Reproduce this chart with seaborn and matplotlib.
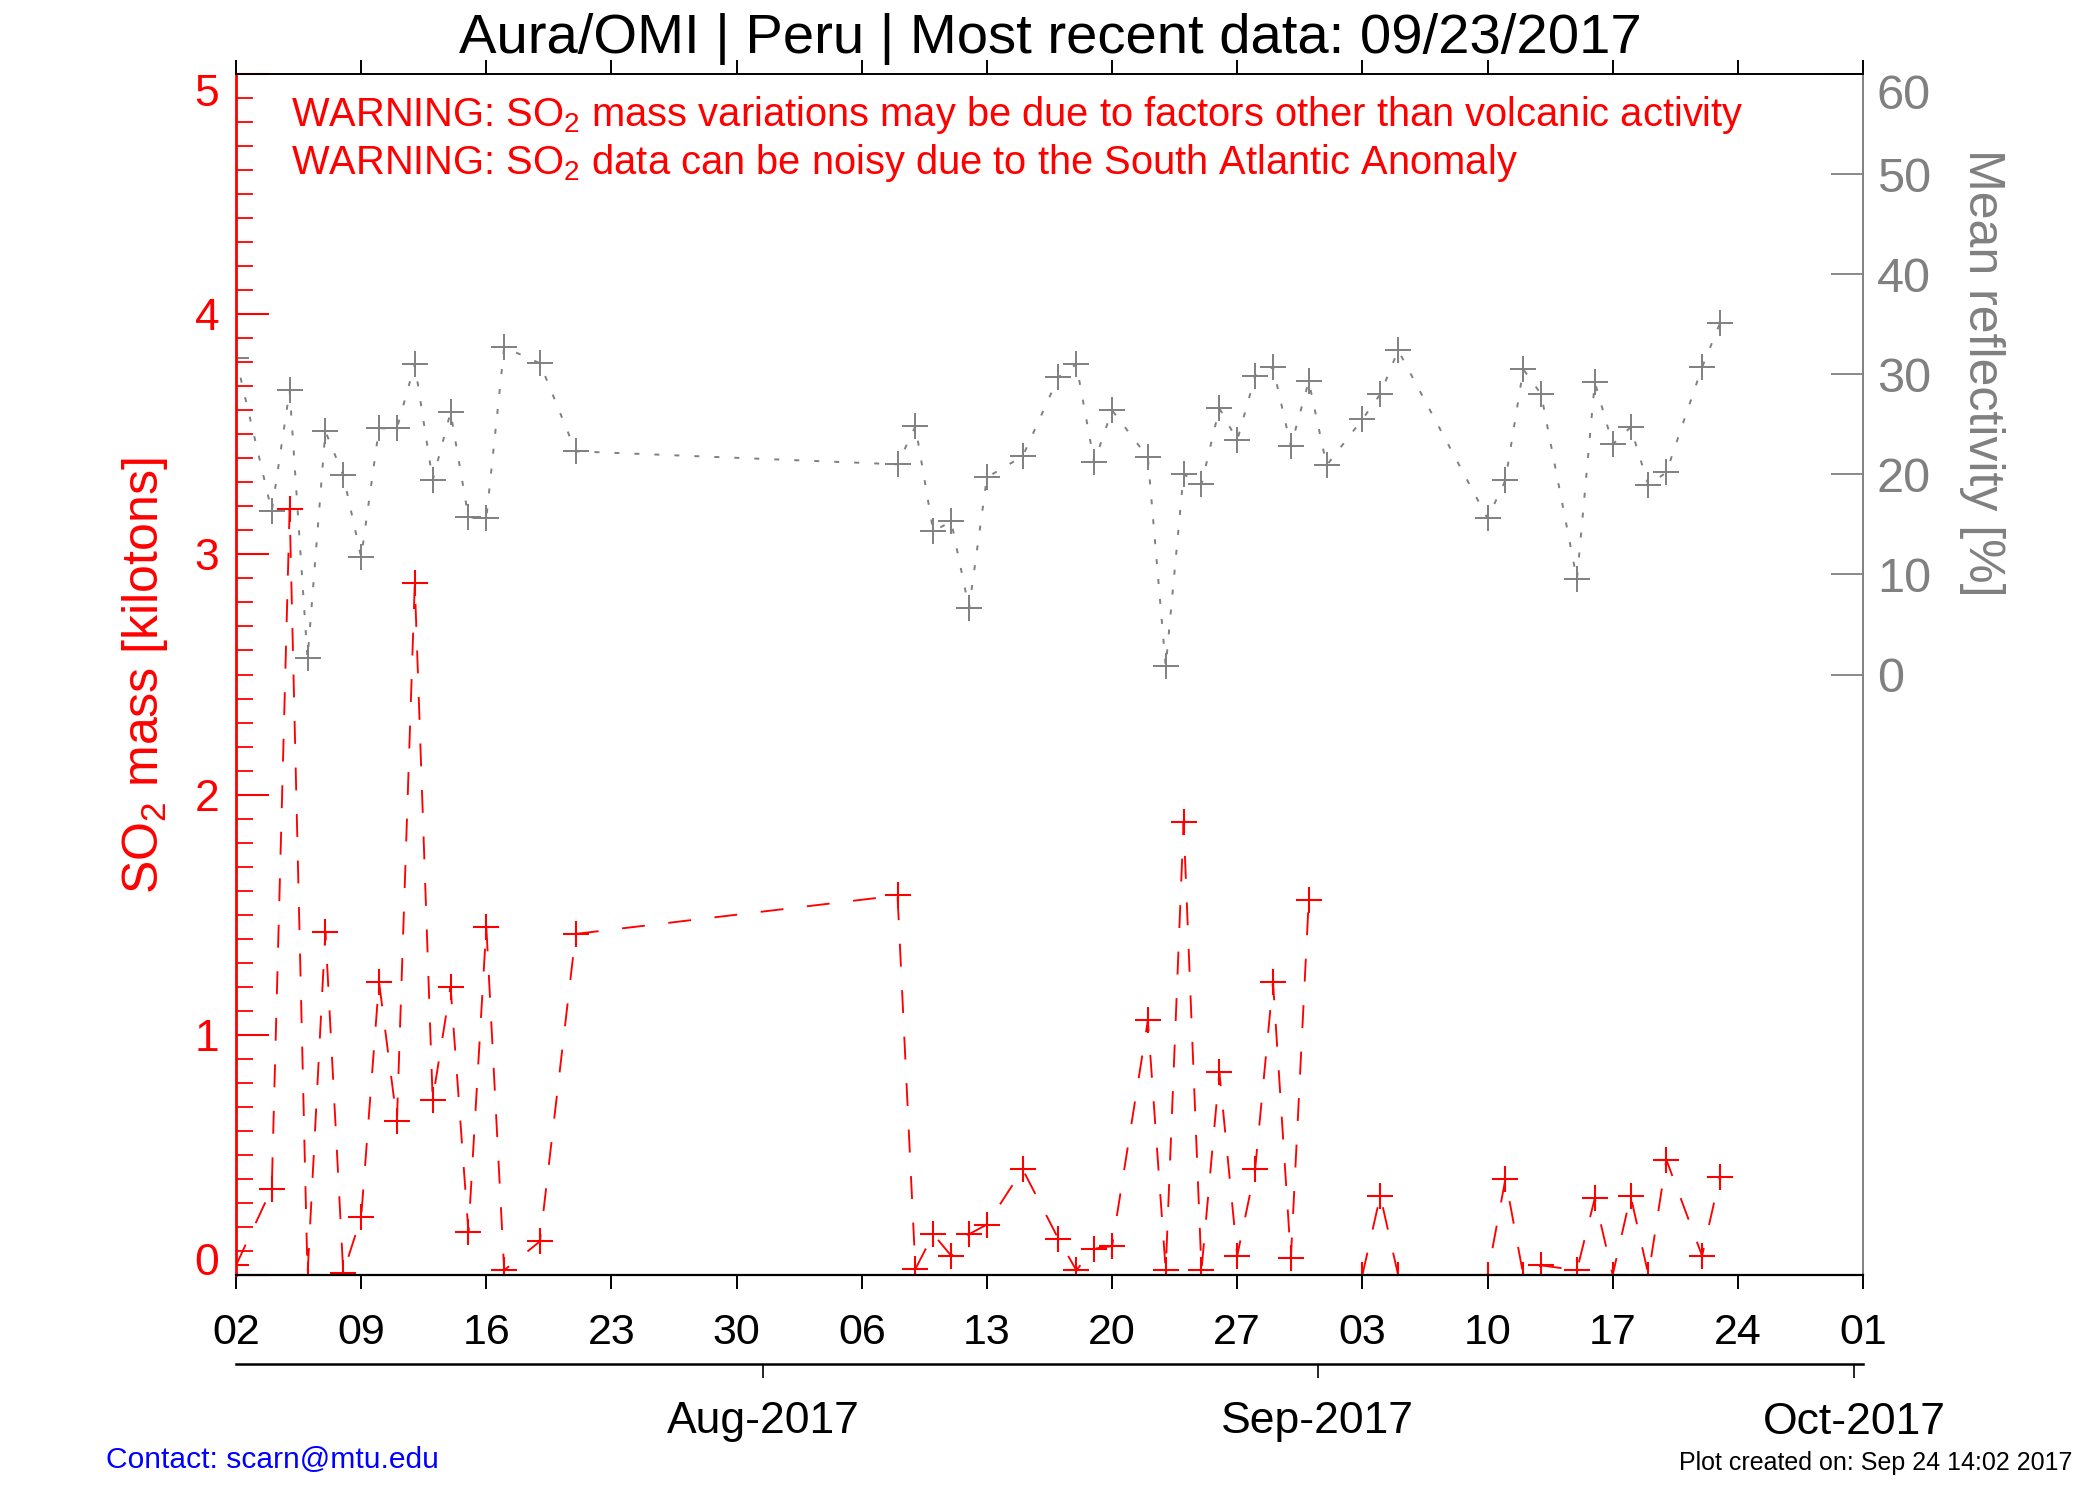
import numpy as np
import pandas as pd
import matplotlib
matplotlib.use("Agg")
import matplotlib.pyplot as plt
import matplotlib.dates as mdates
from matplotlib.ticker import MultipleLocator, FixedLocator
import seaborn as sns

# ---------------- data ----------------
dates = ["2017-07-02", "2017-07-04", "2017-07-05", "2017-07-06", "2017-07-07",
         "2017-07-08", "2017-07-09", "2017-07-10", "2017-07-11", "2017-07-12",
         "2017-07-13", "2017-07-14", "2017-07-15", "2017-07-16", "2017-07-17",
         "2017-07-19", "2017-07-21", "2017-08-08", "2017-08-09", "2017-08-10",
         "2017-08-11", "2017-08-12", "2017-08-13", "2017-08-15", "2017-08-17",
         "2017-08-18", "2017-08-19", "2017-08-20", "2017-08-22", "2017-08-23",
         "2017-08-24", "2017-08-25", "2017-08-26", "2017-08-27", "2017-08-28",
         "2017-08-29", "2017-08-30", "2017-08-31", "2017-09-01", "2017-09-03",
         "2017-09-04", "2017-09-05", "2017-09-10", "2017-09-11", "2017-09-12",
         "2017-09-13", "2017-09-15", "2017-09-16", "2017-09-17", "2017-09-18",
         "2017-09-19", "2017-09-20", "2017-09-22", "2017-09-23"]

so2_mass = [0.04, 0.36, 3.19, 0.00, 1.43,
            0.01, 0.24, 1.22, 0.64, 2.88,
            0.73, 1.20, 0.18, 1.45, 0.02,
            0.14, 1.42, 1.58, 0.025, 0.17,
            0.08, 0.17, 0.21, 0.44, 0.15,
            0.02, 0.11, 0.12, 1.06, 0.02,
            1.885, 0.02, 0.845, 0.08, 0.44,
            1.22, 0.07, 1.56, np.nan, 0.00,
            0.33, 0.00, 0.00, 0.40, 0.00,
            0.04, 0.02, 0.32, 0.00, 0.33,
            0.00, 0.48, 0.08, 0.41]

reflectivity = [31.6, 16.3, 28.4, 1.6, 24.3,
                19.9, 11.7, 24.6, 24.6, 31.0,
                19.4, 26.2, 15.7, 15.6, 32.7,
                31.1, 22.3, 21.0, 24.8, 14.3,
                15.3, 6.6, 19.7, 21.8, 29.7,
                31.0, 21.2, 26.4, 21.7, 0.8,
                20.0, 19.0, 26.6, 23.4, 29.8,
                30.7, 22.8, 29.3, 20.9, 25.5,
                28.0, 32.4, 15.6, 19.4, 30.5,
                28.0, 9.5, 29.2, 23.0, 24.7,
                18.9, 20.2, 30.7, 35.1]

day_tick_labels = ["02", "09", "16", "23", "30", "06", "13", "20", "27",
                   "03", "10", "17", "24", "01"]
month_tick_dates = ["2017-08-01", "2017-09-01", "2017-10-01"]
month_tick_labels = ["Aug-2017", "Sep-2017", "Oct-2017"]
so2_ticks = [0, 1, 2, 3, 4, 5]
refl_ticks = [0, 10, 20, 30, 40, 50, 60]

title = "Aura/OMI | Peru | Most recent data: 09/23/2017"
warning1 = "WARNING: SO$_2$ mass variations may be due to factors other than volcanic activity"
warning2 = "WARNING: SO$_2$ data can be noisy due to the South Atlantic Anomaly"

# ---------------- style ----------------
sns.set_theme(style="white")
plt.rcParams["font.family"] = ["Liberation Sans", "DejaVu Sans"]
plt.rcParams["mathtext.default"] = "regular"
plt.rcParams["lines.scale_dashes"] = False
plt.rcParams["axes.grid"] = False

W, H = 2100, 1500
fig = plt.figure(figsize=(21, 15), dpi=100)
fig.patch.set_facecolor("white")

L, R, T, B = 236, 1863, 74, 1275
ax = fig.add_axes([L / W, 1 - B / H, (R - L) / W, (B - T) / H])
ax2 = ax.twinx()

df = pd.DataFrame({
    "date": pd.to_datetime(dates) + pd.Timedelta(hours=12),
    "so2": so2_mass,
    "refl": reflectivity,
})
df["segment"] = df["so2"].isna().cumsum()

# reflectivity (grey, dotted)
sns.lineplot(data=df, x="date", y="refl", ax=ax2, color="gray",
             marker="+", markersize=19, markeredgewidth=1.4,
             markeredgecolor="gray", linewidth=1.4)
for ln in ax2.lines:
    ln.set_dashes((3.6, 10.8))

# SO2 mass (red, dashed), broken at missing values
sns.lineplot(data=df.dropna(subset=["so2"]), x="date", y="so2", ax=ax,
             units="segment", estimator=None, color="red",
             marker="+", markersize=19, markeredgewidth=1.5,
             markeredgecolor="red", linewidth=1.35)
for ln in ax.lines:
    ln.set_dashes((16.5, 17.0))

# put red on top
ax.set_zorder(ax2.get_zorder() + 1)
ax.patch.set_visible(False)

# ---------------- limits ----------------
ax.set_xlim(pd.Timestamp("2017-07-02 12:00"), pd.Timestamp("2017-10-01 12:00"))
ax.set_ylim(0, 5)
ax2.set_ylim(-60, 60)
ax.set_xlabel("")
ax.set_ylabel("")
ax2.set_ylabel("")
ax2.set_xlabel("")

# ---------------- x axis (days) ----------------
day_pos = pd.date_range("2017-07-02 12:00", periods=len(day_tick_labels), freq="7D")
ax.xaxis.set_major_locator(FixedLocator(mdates.date2num(day_pos)))
ax.set_xticklabels(day_tick_labels)
ax.tick_params(axis="x", which="major", direction="out", length=10, width=1.4,
               bottom=True, top=True, labelbottom=True, labeltop=False,
               colors="black", labelsize=31, pad=17)

# month axis below
sec = ax.secondary_xaxis(-(1364 - B) / (B - T))
sec.xaxis.set_major_locator(FixedLocator(mdates.date2num(pd.to_datetime(month_tick_dates))))
sec.set_xticklabels(month_tick_labels)
sec.tick_params(axis="x", direction="out", length=10, width=1.2,
                labelsize=32, pad=17, colors="black")
sec.spines["bottom"].set_linewidth(1.8)
sec.spines["bottom"].set_color("black")

# ---------------- left y axis (SO2) ----------------
ax.yaxis.set_major_locator(FixedLocator(so2_ticks))
ax.set_yticklabels([str(t) for t in so2_ticks])
ax.yaxis.set_minor_locator(MultipleLocator(0.1))
ax.tick_params(axis="y", which="major", direction="in", length=24, width=1.5,
               left=True, right=False, colors="red", labelsize=32, pad=12)
ax.tick_params(axis="y", which="minor", direction="in", length=12, width=1.3,
               left=True, right=False, colors="red")
ticks_l = ax.yaxis.get_major_ticks()
ticks_l[0].label1.set_va("baseline")
ticks_l[-1].label1.set_va("top")

# ---------------- right y axis (reflectivity) ----------------
ax2.yaxis.set_major_locator(FixedLocator(refl_ticks))
ax2.set_yticklabels([str(t) for t in refl_ticks])
ax2.tick_params(axis="y", which="major", direction="in", length=23, width=1.3,
                left=False, right=True, labelleft=False, labelright=True,
                colors="gray", labelsize=35, pad=10)
ax2.yaxis.get_major_ticks()[-1].label2.set_va("top")

# ---------------- spines ----------------
for s in ["left", "right", "top", "bottom"]:
    ax2.spines[s].set_visible(False)
ax2.spines["right"].set_visible(True)
ax2.spines["right"].set_color("gray")
ax2.spines["right"].set_linewidth(1.4)

ax.spines["right"].set_visible(False)
ax.spines["left"].set_color("red")
ax.spines["left"].set_linewidth(2.0)
ax.spines["top"].set_color("black")
ax.spines["top"].set_linewidth(1.4)
ax.spines["bottom"].set_color("black")
ax.spines["bottom"].set_linewidth(1.6)

# ---------------- texts ----------------
fig.text(1050 / W, 1 - 53 / H, title, ha="center", va="baseline",
         fontsize=40.5, color="black")
fig.text(291 / W, 1 - 125.5 / H, warning1, ha="left", va="baseline",
         fontsize=28.7, color="red")
fig.text(291 / W, 1 - 173.5 / H, warning2, ha="left", va="baseline",
         fontsize=28.7, color="red")

fig.text(145 / W, 1 - 676 / H, "SO$_2$ mass [kilotons]", rotation=90,
         ha="center", va="center", fontsize=36, color="red")
fig.text(1982 / W, 1 - 373 / H, "Mean reflectivity [%]", rotation=270,
         ha="center", va="center", fontsize=36, color="gray")

fig.text(106 / W, 1 - 1460 / H, "Contact: scarn@mtu.edu", ha="left",
         va="center", fontsize=21.6, color="blue")
fig.text(2072 / W, 1 - 1463 / H, "Plot created on: Sep 24 14:02 2017",
         ha="right", va="center", fontsize=18, color="black")

fig.savefig("out.png", dpi=100, facecolor="white")
